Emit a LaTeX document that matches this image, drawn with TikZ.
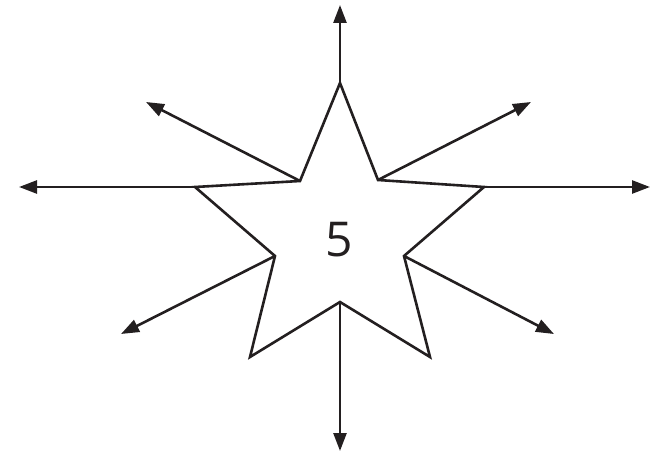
\documentclass[tikz,border=0pt]{standalone}
\usepackage{fontspec}
\setmainfont{Open Sans}
\usetikzlibrary{arrows.meta}
\definecolor{ink}{HTML}{231F20}
\begin{document}
\begin{tikzpicture}[x=1pt,y=-1pt,
  starline/.style={draw=ink,line width=2.6pt,line join=miter},
  ray/.style={draw=ink,line width=2.6pt,-{Triangle[length=18pt,width=13pt]}},
  pt/.style={inner sep=0pt,minimum size=0pt}]
\useasboundingbox (0,0) rectangle (651,454);
\coordinate (t) at (340,83);
\coordinate (itr) at (378,180);
\coordinate (r) at (484,187);
\coordinate (ir) at (404,256);
\coordinate (br) at (430,357);
\coordinate (ib) at (340,302);
\coordinate (bl) at (250,357);
\coordinate (il) at (275,256);
\coordinate (l) at (195,187);
\coordinate (itl) at (300,181);
\coordinate (eu) at (340,5);
\coordinate (ed) at (340,451);
\coordinate (el) at (19,187);
\coordinate (er) at (650,187);
\coordinate (eul) at (146,102);
\coordinate (eur) at (531,102);
\coordinate (edl) at (121,334);
\coordinate (edr) at (554,334);
\draw[starline] (t) -- (itr) -- (r) -- (ir) -- (br) -- (ib) -- (bl) -- (il) -- (l) -- (itl) -- cycle;
\draw[ray] (t) -- (eu);
\draw[ray] (ib) -- (ed);
\draw[ray] (l) -- (el);
\draw[ray] (r) -- (er);
\draw[ray] (itl) -- (eul);
\draw[ray] (itr) -- (eur);
\draw[ray] (il) -- (edl);
\draw[ray] (ir) -- (edr);
\node[text=ink,font=\fontsize{48}{48}\selectfont] (lbl) at (339,240) {5};
\end{tikzpicture}
\end{document}
